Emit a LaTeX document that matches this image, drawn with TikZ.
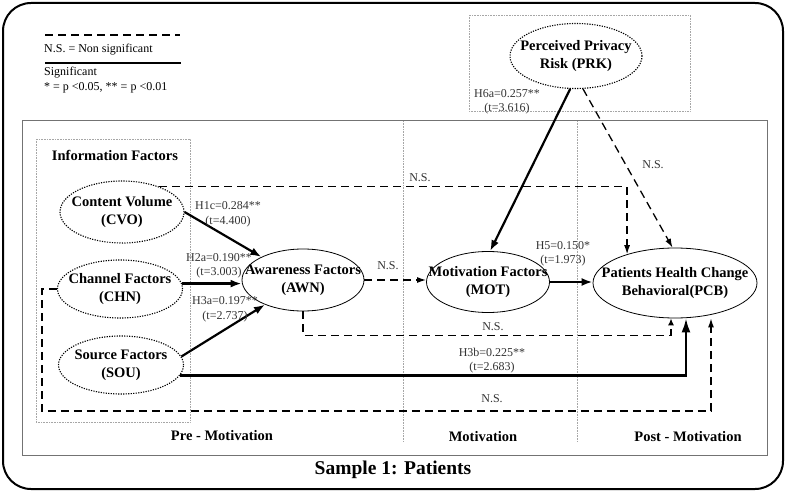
\documentclass[tikz,border=0pt]{standalone}
\usepackage{fontspec}
\setmainfont{Liberation Serif}
\usetikzlibrary{shapes.geometric}
\usetikzlibrary{arrows.meta}

\tikzset{
  factor/.style={ellipse,draw,dash pattern=on 1.2pt off 1.3pt,line width=1.1pt,inner sep=-30pt,align=center,font=\bfseries\fontsize{14.5}{18}\selectfont},
  construct/.style={ellipse,draw,line width=0.8pt,inner sep=-30pt,align=center,font=\bfseries\fontsize{14.5}{18}\selectfont},
  sig/.style={line width=2.2pt,-{Latex[length=11pt,width=8pt]}},
  ns/.style={line width=1.3pt,dash pattern=on 8pt off 5pt,-{Latex[length=9pt,width=6pt]}},
  coef/.style={align=center,font=\fontsize{12}{14.5}\selectfont,text=black!80,inner sep=0pt},
  stage/.style={font=\bfseries\fontsize{14.5}{17}\selectfont,inner sep=0pt},
  legend/.style={anchor=west,font=\fontsize{12}{15}\selectfont,inner sep=0pt},
  zone/.style={draw=black!35,densely dotted,line width=0.6pt}
}

\begin{document}
\begin{tikzpicture}[x=1pt,y=-1pt]
	\useasboundingbox (0,0) rectangle (787,492);

	% frames
	\draw[line width=2pt,rounded corners=28pt] (3,3) rectangle (783,489);
	\draw[black!55,line width=1pt] (22,121) rectangle (767,455);
	\draw[zone] (36,139) rectangle (190,422);
	\draw[zone] (469,15) rectangle (690,111);
	\draw[zone] (403,121) -- (403,442);
	\draw[zone] (577,121) -- (577,442);

	% legend
	\draw[line width=1.3pt,dash pattern=on 8pt off 5pt] (45,35) -- (180,35);
	\node [legend] (ns text) at (44,50) {N.S. = Non significant};
	\draw[line width=1.3pt] (45,63) -- (181,63);
	\node [legend] (sig text) at (44,73) {Significant};
	\node [legend] (p text) at (44,88) {* = p <0.05, ** = p <0.01};

	% constructs
	\node [stage] (info) at (115,155) {Information Factors};
	\node [factor,minimum width=124pt,minimum height=62pt] (cvo) at (122,212) {Content Volume\\(CVO)};
	\node [factor,minimum width=125pt,minimum height=58pt] (chn) at (120,289) {Channel Factors\\(CHN)};
	\node [factor,minimum width=125pt,minimum height=58pt] (sou) at (121,365) {Source Factors\\(SOU)};
	\node [factor,minimum width=132pt,minimum height=65pt] (prk) at (576,56) {Perceived Privacy\\Risk (PRK)};
	\node [construct,minimum width=122pt,minimum height=62pt] (awn) at (303,280) {Awareness Factors\\(AWN)};
	\node [construct,minimum width=123pt,minimum height=61pt] (mot) at (488,282) {Motivation Factors\\(MOT)};
	\node [construct,minimum width=164pt,minimum height=70pt] (pcb) at (675,283) {Patients Health Change\\Behavioral(PCB)};

	% significant paths
	\draw[sig] (cvo.east) -- (awn.151);
	\draw[sig] (chn.5) -- (chn.5 -| awn.west);
	\draw[sig] (sou.8) -- (awn.213);
	\draw[sig] (mot.east) -- (mot.east -| pcb.west);
	\draw[sig] (prk.-100) -- (mot.86);
	\draw[sig,-{Latex[length=14pt,width=9pt]}] (sou.-10) -| ([xshift=11pt]pcb.south);

	% non significant paths
	\draw[ns] (awn.east) -- (awn.east -| mot.west);
	\draw[ns] (cvo.34) -| (pcb.149);
	\draw[ns] (prk.-78) -- (pcb.94);
	\draw[ns,-{Latex[length=7pt,width=6pt]}] (awn.south) -- ++(0,24) -| ([xshift=-4pt]pcb.south);
	\draw[ns] (chn.west) -- ++(-15,0) -- ++(0,122) -| ([xshift=36pt]pcb.south);

	% coefficients
	\node [coef] (h1c) at (228,214.5) {H1c=0.284**\\(t=4.400)};
	\node [coef] (h2a) at (219,266) {H2a=0.190**\\(t=3.003)};
	\node [coef] (h3a) at (225,309.5) {H3a=0.197**\\(t=2.737)};
	\node [coef] (h3b) at (492,360.5) {H3b=0.225**\\(t=2.683)};
	\node [coef] (h5) at (563,254) {H5=0.150*\\(t=1.973)};
	\node [coef] (h6a) at (507,102) {H6a=0.257**\\(t=3.616)};
	\node [coef] (ns cvo) at (420,178) {N.S.};
	\node [coef] (ns prk) at (653,165) {N.S.};
	\node [coef] (ns awn) at (388,266) {N.S.};
	\node [coef] (ns awn pcb) at (493,327) {N.S.};
	\node [coef] (ns chn) at (492,399) {N.S.};

	% stages
	\node [stage] (pre) at (222,436) {Pre - Motivation};
	\node [stage] (motivation) at (483,437) {Motivation};
	\node [stage] (post) at (688,437) {Post - Motivation};
	\node [stage,font=\bfseries\fontsize{19.5}{22}\selectfont] (sample) at (393,470) {Sample 1: Patients};

\end{tikzpicture}
\end{document}
